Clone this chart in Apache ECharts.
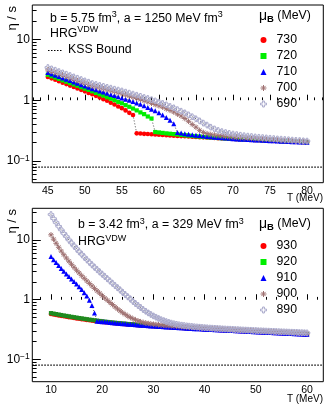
<!DOCTYPE html>
<html><head><meta charset="utf-8">
<script src="https://cdn.jsdelivr.net/npm/echarts@6/dist/echarts.min.js"></script>
<style>html,body{margin:0;padding:0;background:#fff}#c{width:331px;height:407px}</style>
</head><body><div id="c"></div><script>
// ---------- DATA ----------
const tTop = [45,45.5,46,46.5,47,47.5,48,48.5,49,49.5,50,50.5,51,51.5,52,52.5,53,53.5,54,54.5,55,55.5,56,56.5,57,57.5,58,58.5,59,59.5,60,60.5,61,61.5,62,62.5,63,63.5,64,64.5,65,65.5,66,66.5,67,67.5,68,68.5,69,69.5,70,70.5,71,71.5,72,72.5,73,73.5,74,74.5,75,75.5,76,76.5,77,77.5,78,78.5,79,79.5,80];
const mu730 = [2.42,2.29,2.17,2.05,1.94,1.84,1.74,1.65,1.56,1.48,1.40,1.32,1.25,1.18,1.11,1.04,0.98,0.91,0.85,0.79,0.74,0.68,0.62,0.57,
 0.285,0.283,0.280,0.278,0.275,0.273,0.270,0.268,0.266,0.263,0.261,0.259,0.257,0.255,0.253,0.251,0.249,0.247,0.245,0.243,0.241,0.239,0.237,0.236,0.234,0.232,0.231,0.229,0.227,0.226,0.224,0.223,0.221,0.220,0.218,0.217,0.215,0.214,0.213,0.211,0.210,0.209,0.207,0.206,0.205,0.204,0.203];
const mu720 = [2.62,2.48,2.36,2.24,2.12,2.02,1.91,1.82,1.73,1.64,1.55,1.48,1.40,1.32,1.25,1.19,1.12,1.06,1.00,0.94,0.89,0.83,0.78,0.73,0.68,0.63,0.59,0.54,0.50,
 0.300,0.295,0.290,0.285,0.281,0.277,0.273,0.269,0.265,0.262,0.258,0.255,0.252,0.249,0.246,0.244,0.241,0.239,0.237,0.235,0.233,0.231,0.230,0.228,0.227,0.225,0.224,0.222,0.221,0.219,0.218,0.216,0.215,0.214,0.212,0.211,0.210,0.208,0.207,0.206,0.205,0.204];
const mu710 = [2.85,2.71,2.58,2.45,2.33,2.21,2.10,2.00,1.90,1.80,1.71,1.63,1.55,1.48,1.42,1.36,1.30,1.24,1.19,1.14,1.09,1.04,1.00,0.95,0.90,0.86,0.81,0.76,0.71,0.67,0.62,0.57,0.52,0.47,0.41,
 0.295,0.288,0.282,0.276,0.271,0.266,0.262,0.258,0.254,0.250,0.247,0.244,0.241,0.238,0.236,0.233,0.231,0.229,0.227,0.226,0.224,0.222,0.221,0.219,0.218,0.216,0.215,0.214,0.212,0.211,0.210,0.208,0.207,0.206,0.205,0.204];
const mu700 = [3.15,2.99,2.85,2.71,2.58,2.45,2.33,2.21,2.10,2.00,1.91,1.81,1.72,1.66,1.60,1.54,1.49,1.43,1.38,1.33,1.28,1.22,1.17,1.12,1.07,1.03,0.98,0.94,0.89,0.85,0.81,
 0.77,0.72,0.68,0.64,0.59,0.55,0.50,0.45,0.40,0.36,0.32,0.295,
 0.282,0.274,0.268,0.263,0.259,0.255,0.251,0.248,0.245,0.242,0.240,0.237,0.235,0.233,0.231,0.229,0.227,0.225,0.223,0.221,0.219,0.218,0.216,0.214,0.213,0.211,0.210,0.208];
const mu690 = [3.45,3.28,3.12,2.96,2.82,2.68,2.55,2.42,2.30,2.19,2.08,1.98,1.88,1.82,1.75,1.69,1.63,1.58,1.52,1.47,1.42,1.36,1.31,1.26,1.21,1.16,1.11,1.07,1.02,0.975,0.93,
 0.885,0.84,0.79,0.75,0.70,0.66,0.62,0.575,0.535,0.495,0.457,0.42,0.39,0.36,0.337,0.318,
 0.305,0.294,0.285,0.278,0.272,0.266,0.261,0.257,0.253,0.249,0.246,0.243,0.240,0.237,0.234,0.231,0.229,0.226,0.224,0.221,0.219,0.217,0.215,0.213];

const tBot = [10,10.5,11,11.5,12,12.5,13,13.5,14,14.5,15,15.5,16,16.5,17,17.5,18,18.5,19,19.5,20,20.5,21,21.5,22,22.5,23,23.5,24,24.5,25,25.5,26,26.5,27,27.5,28,28.5,29,29.5,30,30.5,31,31.5,32,32.5,33,33.5,34,34.5,35,35.5,36,36.5,37,37.5,38,38.5,39,39.5,40,40.5,41,41.5,42,42.5,43,43.5,44,44.5,45,45.5,46,46.5,47,47.5,48,48.5,49,49.5,50,50.5,51,51.5,52,52.5,53,53.5,54,54.5,55,55.5,56,56.5,57,57.5,58,58.5,59,59.5,60];
const mu930 = [0.575,0.565,0.555,0.545,0.536,0.527,0.518,0.51,0.502,0.494,0.486,0.479,0.472,0.465,0.458,0.452,0.446,0.44,0.434,0.429,0.424,
 0.419,0.415,0.411,0.407,0.403,0.399,0.396,0.392,0.389,0.386,0.383,0.380,0.377,0.374,0.371,0.369,0.366,0.364,0.361,0.359,
 0.357,0.354,0.352,0.350,0.348,0.346,0.344,0.342,0.340,0.338,0.336,0.334,0.332,0.330,0.328,0.326,0.325,0.323,0.321,0.319,
 0.318,0.316,0.314,0.313,0.311,0.309,0.308,0.306,0.305,0.303,0.302,0.300,0.299,0.297,0.296,0.294,0.293,0.291,0.290,0.288,
 0.287,0.285,0.284,0.283,0.281,0.280,0.278,0.277,0.276,0.274,0.273,0.272,0.270,0.269,0.268,0.266,0.265,0.264,0.262,0.261];
const mu920 = [0.595,0.584,0.573,0.563,0.553,0.543,0.534,0.525,0.516,0.508,0.5,0.492,0.485,0.477,0.47,0.463,0.457,0.451,0.445,0.439,0.433,
 0.428,0.423,0.418,0.414,0.41,0.406,0.402,0.398,0.395,0.391,0.388,0.385,0.382,0.379,0.376,0.373,0.37,0.368,0.365,0.363,
 0.36,0.358,0.356,0.353,0.351,0.349,0.347,0.345,0.343,0.341,0.339,0.337,0.335,0.333,0.331,0.329,0.328,0.326,0.324,0.322,
 0.321,0.319,0.317,0.316,0.314,0.312,0.311,0.309,0.308,0.306,0.305,0.303,0.302,0.300,0.299,0.297,0.296,0.294,0.293,0.291,
 0.290,0.288,0.287,0.286,0.284,0.283,0.281,0.280,0.279,0.277,0.276,0.275,0.273,0.272,0.271,0.269,0.268,0.267,0.265,0.264];
const mu910 = [5.3,4.7,4.2,3.75,3.35,3.0,2.7,2.45,2.22,2.02,1.83,1.65,1.48,1.31,1.15,0.98,0.8,0.6,
 0.437,0.432,0.427,
 0.426,0.421,0.416,0.412,0.408,0.404,0.400,0.396,0.393,0.389,0.386,0.383,0.380,0.377,0.374,0.371,0.368,0.366,0.363,0.361,
 0.358,0.356,0.354,0.351,0.349,0.347,0.345,0.343,0.341,0.339,0.337,0.335,0.333,0.331,0.329,0.327,0.326,0.324,0.322,0.320,
 0.319,0.317,0.315,0.314,0.312,0.310,0.309,0.307,0.306,0.304,0.303,0.301,0.300,0.298,0.297,0.295,0.294,0.292,0.291,0.289,
 0.288,0.286,0.285,0.284,0.282,0.281,0.279,0.278,0.277,0.275,0.274,0.273,0.271,0.270,0.269,0.267,0.266,0.265,0.263,0.262];
const mu900 = [12.3,10.4,8.87,7.6,6.56,5.7,5.01,4.43,3.93,3.5,3.13,2.81,2.53,2.29,2.07,1.88,1.71,1.55,1.41,1.29,1.17,1.07,0.98,0.90,0.83,0.76,0.70,0.65,0.605,0.566,0.532,0.504,0.479,0.458,0.441,0.427,0.415,0.406,0.399,0.393,0.388,
 0.384,0.380,0.376,0.373,0.370,0.367,0.364,0.361,0.358,0.355,0.353,0.350,0.348,0.345,0.343,0.341,0.339,0.337,0.335,0.333,
 0.331,0.329,0.327,0.325,0.323,0.322,0.320,0.318,0.316,0.315,0.313,0.311,0.310,0.308,0.307,0.305,0.304,0.302,0.301,0.299,
 0.298,0.296,0.295,0.294,0.292,0.291,0.290,0.288,0.287,0.286,0.284,0.283,0.282,0.281,0.279,0.278,0.277,0.276,0.275,0.273];
const mu890 = [27.0,23.0,19.8,17.1,14.9,13.0,11.5,10.1,9.0,8.0,7.2,6.4,5.8,5.2,4.7,4.26,3.86,3.52,3.21,2.93,2.69,2.46,2.25,2.07,1.89,1.73,1.59,1.46,1.33,1.22,1.12,1.03,0.94,0.86,0.80,0.74,0.685,0.64,0.60,0.565,0.535,0.508,0.484,0.463,0.446,0.43,0.416,
 0.405,0.395,0.387,0.380,0.374,0.369,0.364,0.360,0.356,0.352,0.349,0.346,0.343,0.340,
 0.338,0.335,0.333,0.331,0.329,0.327,0.325,0.323,0.321,0.320,0.318,0.316,0.315,0.313,0.311,0.310,0.308,0.307,0.305,0.304,
 0.302,0.301,0.300,0.298,0.297,0.295,0.294,0.293,0.291,0.290,0.289,0.288,0.286,0.285,0.284,0.283,0.281,0.280,0.279,0.278];

const kssBound = 0.0796;
const topNames = ['730','720','710','700','690'];
const botNames = ['930','920','910','900','890'];
const xTicksTop = [45,50,55,60,65,70,75,80];
const xTicksBot = [10,20,30,40,50,60];
const yTicks = [0.1,1,10];

// ---------- STYLE / LAYOUT ----------
const FF = '"Liberation Sans", Arial, sans-serif';
const STAR = 'path://M0,5L10,5M5,0L5,10M1.5,1.5L8.5,8.5M8.5,1.5L1.5,8.5';
const OCROSS = 'path://M3.5,0L6.5,0L6.5,3.5L10,3.5L10,6.5L6.5,6.5L6.5,10L3.5,10L3.5,6.5L0,6.5L0,3.5L3.5,3.5Z';
const markers = [
  {sym:'circle', size:4.6, lsize:5.5, color:'#ff0000', hollow:false},
  {sym:'rect', size:4.2, lsize:5, color:'#00ee00', hollow:false},
  {sym:'triangle', size:5, lsize:5.5, color:'#0000ff', hollow:false},
  {sym:STAR, size:5.5, lsize:6, color:'#a07272', hollow:true},
  {sym:OCROSS, size:5.6, lsize:7, color:'#aaaacc', hollow:true}
];
const G = [
  {left:32.3, top:5, width:291, height:177.7, xmin:42.9, xmax:82.2, ymin:0.044, ymax:36.8},
  {left:32.3, top:208.3, width:291, height:173.4, xmin:6.35, xmax:63.18, ymin:0.042, ymax:34.3}
];

function check(){
  const ok = [mu730,mu720,mu710,mu700,mu690].every(a=>a.length===tTop.length) &&
             [mu930,mu920,mu910,mu900,mu890].every(a=>a.length===tBot.length);
  if(!ok) throw new Error('length mismatch');
}
check();

const chart = echarts.init(document.getElementById('c'), null, {renderer:'canvas'});

const grids = G.map(g=>({left:g.left, top:g.top, width:g.width, height:g.height, show:true, borderColor:'#000', borderWidth:1, backgroundColor:'transparent'}));

function minorX(min,max,majors){const r=[];for(let v=Math.ceil(min);v<=max;v++){if(majors.indexOf(v)<0)r.push(v);}return r;}
function minorXBot(min,max,majors){const r=[];for(let v=Math.ceil(min/2)*2;v<=max;v+=2){if(majors.indexOf(v)<0)r.push(v);}return r;}
function minorY(min,max){const r=[];for(let d=-3;d<=2;d++){for(let k=2;k<=9;k++){const v=k*Math.pow(10,d);if(v>=min&&v<=max)r.push(Math.log10(v));}}return r;}

const tickLine = {color:'#000', width:1};
const xAxes = [], yAxes = [];
[[xTicksTop, minorX], [xTicksBot, minorXBot]].forEach(([majors, mf], gi)=>{
  const g = G[gi];
  xAxes.push({type:'value', gridIndex:gi, min:g.xmin, max:g.xmax, position:'bottom',
    axisLine:{show:false}, splitLine:{show:false},
    axisTick:{show:true, inside:true, length:5.5, customValues:majors, lineStyle:tickLine},
    axisLabel:{show:true, customValues:majors, margin:3, fontSize:10.5, color:'#000', fontFamily:FF}});
  xAxes.push({type:'value', gridIndex:gi, min:g.xmin, max:g.xmax, position:'bottom',
    axisLine:{show:false}, splitLine:{show:false},
    axisTick:{show:true, inside:true, length:2.8, customValues:mf(g.xmin,g.xmax,majors), lineStyle:tickLine},
    axisLabel:{show:false}});
});
G.forEach((g,gi)=>{
  const lmin = Math.log10(g.ymin), lmax = Math.log10(g.ymax);
  const majL = yTicks.map(v=>Math.log10(v));
  yAxes.push({type:'log', logBase:10, gridIndex:gi, min:g.ymin, max:g.ymax, position:'left',
    axisLine:{show:false}, axisTick:{show:false}, axisLabel:{show:false}, splitLine:{show:false}, minorTick:{show:false}});
  yAxes.push({type:'value', gridIndex:gi, min:lmin, max:lmax, position:'left',
    axisLine:{show:false}, splitLine:{show:false},
    axisTick:{show:true, inside:true, length:8.5, customValues:majL, lineStyle:tickLine},
    axisLabel:{show:true, customValues:majL, margin:2.5, fontSize:12, lineHeight:14, color:'#000', fontFamily:FF,
      formatter:(v)=> Math.abs(v+1)<1e-6 ? '10{s|\u22121}' : (Math.abs(v)<1e-6 ? '1' : '10'),
      rich:{s:{fontSize:8.5, lineHeight:8, verticalAlign:'top', fontFamily:FF, color:'#000'}}}});
  yAxes.push({type:'value', gridIndex:gi, min:lmin, max:lmax, position:'left',
    axisLine:{show:false}, splitLine:{show:false},
    axisTick:{show:true, inside:true, length:4.3, customValues:minorY(g.ymin,g.ymax), lineStyle:tickLine},
    axisLabel:{show:false}});
});

function mk(name, gi, T, vals, m, colorOverride){
  const c = colorOverride || m.color;
  return {type:'line', name, xAxisIndex:gi*2, yAxisIndex:gi*3, data:T.map((t,i)=>[t, vals[i]]),
    symbol:m.sym, symbolSize:m.size, showSymbol:true, showAllSymbol:true,
    lineStyle:{color:'#222', width:0.8, type:[1,2]},
    itemStyle: m.hollow ? {color:'rgba(0,0,0,0)', borderColor:c, borderWidth:1} : {color:c, borderWidth:0},
    emphasis:{disabled:true}, silent:true, animation:false, clip:true};
}
const series = [];
G.forEach((g,gi)=>{
  series.push({type:'line', name:'KSS'+gi, xAxisIndex:gi*2, yAxisIndex:gi*3, data:[[g.xmin,kssBound],[g.xmax,kssBound]],
    symbol:'none', lineStyle:{color:'#000', width:1.2, type:[1.5,1.5]}, silent:true, animation:false});
});
[mu730,mu720,mu710,mu700,mu690].forEach((a,i)=>series.push(mk(topNames[i],0,tTop,a,markers[i])));
[mu930,mu920,mu910,mu900,mu890].forEach((a,i)=>series.push(mk(botNames[i],1,tBot,a,markers[i], i===1?'#1f8a1f':null)));

// legend drawn as a legend component per panel (one entry per series)
const legTop = [32, 238];
const legends = [topNames, botNames].map((names,gi)=>({
  data:names.map(n=>({name:n})), orient:'vertical', left:260, top:legTop[gi], itemWidth:6, itemHeight:6, itemGap:0,
  selectedMode:false, padding:0, textStyle:{fontSize:12.3, lineHeight:16, color:'#000', fontFamily:FF, padding:[0,0,0,5]}
}));
// per-item icon styling
legends.forEach((lg,gi)=>{
  lg.data = lg.data.map((d,i)=>{
    const m = markers[i];
    return {name:d.name, icon:m.sym,
      itemStyle: m.hollow ? {color:'rgba(0,0,0,0)', borderColor:m.color, borderWidth:1} : {color:m.color, borderWidth:0}};
  });
});

const txt = (x,y,text,extra)=>Object.assign({type:'text', x, y, silent:true,
  style:Object.assign({text, fill:'#000', fontSize:12.3, fontFamily:FF, align:'left', verticalAlign:'middle', lineHeight:16,
    rich:{s:{fontSize:9, lineHeight:10, verticalAlign:'top', fontFamily:FF, fill:'#000'},
          mu:{fontSize:14, lineHeight:16, fontFamily:FF, fill:'#000'},
          b:{fontSize:9.5, fontWeight:'bold', lineHeight:12, verticalAlign:'bottom', fontFamily:FF, fill:'#000'}}}, extra||{})});

const graphic = [
  Object.assign(txt(12, 6, '\u03b7 / s', {align:'right', fontSize:13}), {rotation:Math.PI/2}),
  Object.assign(txt(12, 209, '\u03b7 / s', {align:'right', fontSize:13}), {rotation:Math.PI/2}),
  txt(50, 18.3, 'b = 5.75 fm{s|3}, a = 1250 MeV fm{s|3}'),
  txt(50, 33.5, 'HRG{s|VDW}'),
  {type:'line', silent:true, shape:{x1:48, y1:50.5, x2:63, y2:50.5}, style:{stroke:'#000', lineWidth:1.2, lineDash:[1.5,1.5]}},
  txt(68, 50, 'KSS Bound'),
  txt(259, 16, '{mu|\u03bc}{b|B} (MeV)'),
  txt(78, 225, 'b = 3.42 fm{s|3}, a = 329 MeV fm{s|3}'),
  txt(78, 241.7, 'HRG{s|VDW}'),
  txt(259, 224, '{mu|\u03bc}{b|B} (MeV)'),
  txt(323, 198.5, 'T (MeV)', {align:'right', fontSize:10}),
  txt(323, 399.5, 'T (MeV)', {align:'right', fontSize:10})
];

chart.setOption({animation:false, backgroundColor:'#fff', grid:grids, xAxis:xAxes, yAxis:yAxes, series, legend:legends, graphic});
</script></body></html>
